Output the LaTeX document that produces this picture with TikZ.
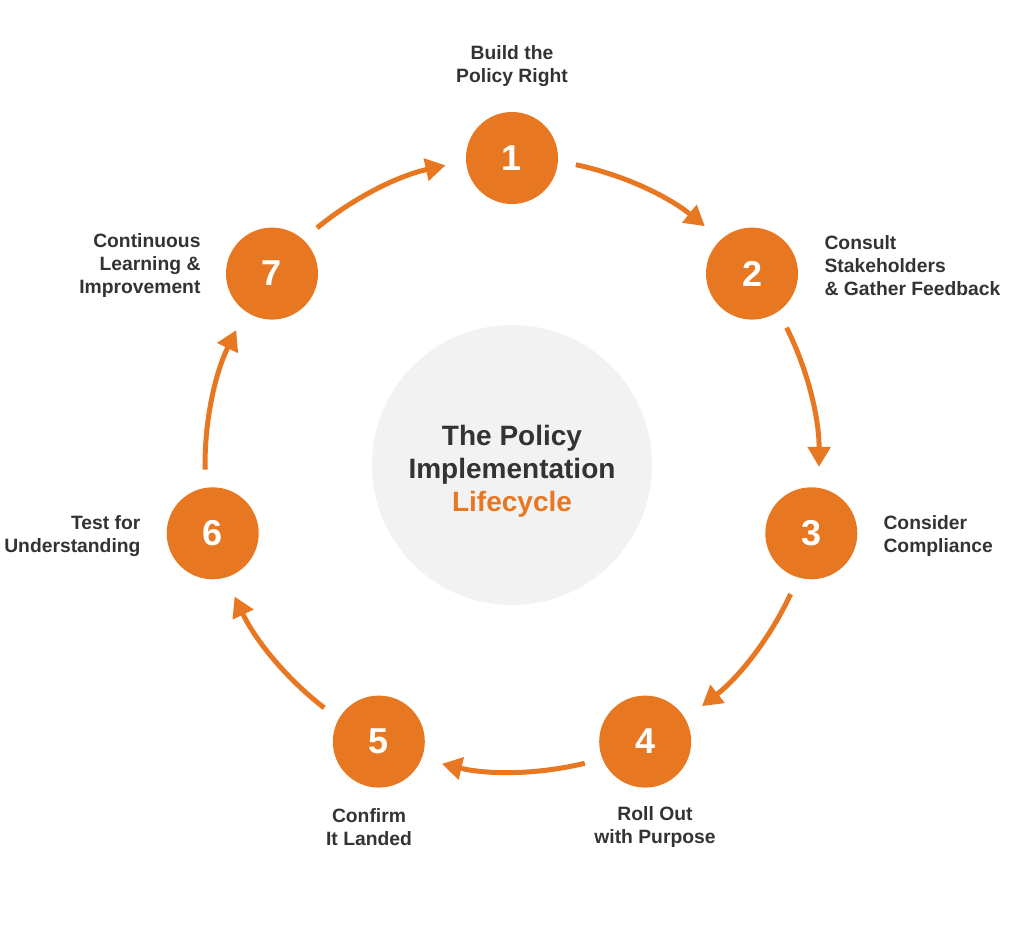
\documentclass[tikz,border=0pt]{standalone}
\usepackage{fontspec}
\setmainfont{Liberation Sans}
\usetikzlibrary{arrows.meta}
\definecolor{org}{HTML}{E87722}
\definecolor{txt}{HTML}{333333}
\definecolor{bg}{HTML}{F2F2F2}
\begin{document}
\begin{tikzpicture}[x=1pt,y=-1pt,
  stepnode/.style={circle,fill=org,minimum size=92pt,inner sep=0pt,text=white,font=\fontsize{36}{36}\selectfont\bfseries},
  lab/.style={text=txt,font=\fontsize{19.3}{23}\selectfont\bfseries},
  arr/.style={draw=org,line width=5pt,-{Triangle[length=20pt,width=22pt]}}]
\useasboundingbox (0,0) rectangle (1024,931);
\coordinate (C) at (512,465);
\node[circle,fill=bg,minimum size=280pt,inner sep=0pt] (ctr) at (C) {};
\node[align=center,font=\fontsize{28}{33}\selectfont\bfseries,text=txt] (ttl) at (512,471) {The Policy\\Implementation\\\textcolor{org}{Lifecycle}};
\foreach \i in {1,...,7}{
  \pgfmathsetmacro{\a}{-90+(\i-1)*360/7}
  \node[stepnode] (n\i) at ([shift={(\a:307)}]C) {\i};
}
\foreach \i in {1,...,7}{
  \pgfmathsetmacro{\a}{-90+(\i-1)*360/7}
  \pgfmathsetmacro{\s}{\a+12}
  \pgfmathsetmacro{\e}{\a+360/7-12.5}
  \draw[arr] ([shift={(\s:307)}]C) arc[start angle=\s,end angle=\e,radius=307];
}
\node[lab,align=center] (l1) at (512,66) {Build the\\Policy Right};
\node[lab,align=left,anchor=west] (l2) at (821,266) {Consult\\Stakeholders\\\& Gather Feedback};
\node[lab,align=left,anchor=west] (l3) at (880,536) {Consider\\Compliance};
\node[lab,align=center] (l4) at (655,827) {Roll Out\\with Purpose};
\node[lab,align=center] (l5) at (369,827) {Confirm\\It Landed};
\node[lab,align=right,anchor=east] (l6) at (144,536) {Test for\\Understanding};
\node[lab,align=right,anchor=east] (l7) at (204,266) {Continuous\\Learning \&\\Improvement};
\end{tikzpicture}
\end{document}
